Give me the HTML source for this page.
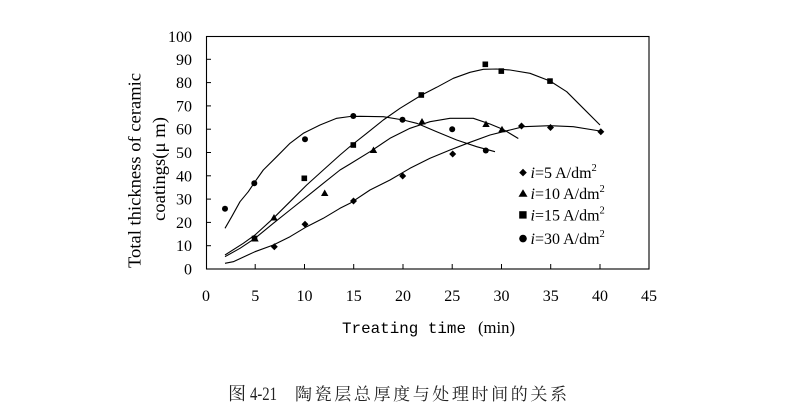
<!DOCTYPE html>
<html>
<head>
<meta charset="utf-8">
<style>
  html,body{margin:0;padding:0;background:#fff;}
  svg{display:block;}
</style>
</head>
<body>
<svg width="798" height="418" viewBox="0 0 798 418" xmlns="http://www.w3.org/2000/svg">
  <rect x="0" y="0" width="798" height="418" fill="#fff"/>
  <!-- plot frame -->
  <rect x="206.5" y="36.5" width="442.5" height="232.5" fill="none" stroke="#000" stroke-width="1.1"/>
  <!-- x ticks -->
  <g stroke="#000" stroke-width="1">
    <line x1="255.2" y1="269" x2="255.2" y2="264"/>
    <line x1="304.5" y1="269" x2="304.5" y2="264"/>
    <line x1="353.7" y1="269" x2="353.7" y2="264"/>
    <line x1="403" y1="269" x2="403" y2="264"/>
    <line x1="452.2" y1="269" x2="452.2" y2="264"/>
    <line x1="501.5" y1="269" x2="501.5" y2="264"/>
    <line x1="550.7" y1="269" x2="550.7" y2="264"/>
    <line x1="600" y1="269" x2="600" y2="264"/>
  </g>
  <!-- y ticks -->
  <g stroke="#000" stroke-width="1">
    <line x1="206.5" y1="245.7" x2="211" y2="245.7"/>
    <line x1="206.5" y1="222.4" x2="211" y2="222.4"/>
    <line x1="206.5" y1="199.1" x2="211" y2="199.1"/>
    <line x1="206.5" y1="175.8" x2="211" y2="175.8"/>
    <line x1="206.5" y1="152.5" x2="211" y2="152.5"/>
    <line x1="206.5" y1="129.2" x2="211" y2="129.2"/>
    <line x1="206.5" y1="105.9" x2="211" y2="105.9"/>
    <line x1="206.5" y1="82.6" x2="211" y2="82.6"/>
    <line x1="206.5" y1="59.3" x2="211" y2="59.3"/>
  </g>
  <!-- y tick labels -->
  <g font-family="'Liberation Serif', serif" font-size="16" fill="#000" text-anchor="end">
    <text x="192" y="274.5">0</text>
    <text x="192" y="251.2">10</text>
    <text x="192" y="227.9">20</text>
    <text x="192" y="204.6">30</text>
    <text x="192" y="181.3">40</text>
    <text x="192" y="158">50</text>
    <text x="192" y="134.7">60</text>
    <text x="192" y="111.4">70</text>
    <text x="192" y="88.1">80</text>
    <text x="192" y="64.8">90</text>
    <text x="192" y="42.2">100</text>
  </g>
  <!-- x tick labels -->
  <g font-family="'Liberation Serif', serif" font-size="16" fill="#000" text-anchor="middle">
    <text x="206" y="301">0</text>
    <text x="255.2" y="301">5</text>
    <text x="304.5" y="301">10</text>
    <text x="353.7" y="301">15</text>
    <text x="403" y="301">20</text>
    <text x="452.2" y="301">25</text>
    <text x="501.5" y="301">30</text>
    <text x="550.7" y="301">35</text>
    <text x="600" y="301">40</text>
    <text x="649" y="301">45</text>
  </g>
  <!-- x axis title -->
  <text x="342" y="333" font-family="'Liberation Mono', monospace" font-size="16" textLength="124" lengthAdjust="spacingAndGlyphs" fill="#000">Treating time</text>
  <text x="478" y="333" font-family="'Liberation Serif', serif" font-size="17" textLength="37" lengthAdjust="spacingAndGlyphs" fill="#000">(min)</text>
  <!-- y axis title -->
  <text transform="translate(140.5,170.5) rotate(-90)" text-anchor="middle" font-family="'Liberation Serif', serif" font-size="18" textLength="195" lengthAdjust="spacingAndGlyphs" fill="#000">Total thickness of ceramic</text>
  <text transform="translate(165,169) rotate(-90)" text-anchor="middle" font-family="'Liberation Serif', serif" font-size="18" textLength="104" lengthAdjust="spacingAndGlyphs" fill="#000">coatings(μ m)</text>

  <!-- curves -->
  <g fill="none" stroke="#000" stroke-width="1.1" stroke-linejoin="round">
    <polyline points="225,228.3 231.7,216.7 240,201.7 248.3,191.7 255,181.7 263.3,170 276.7,156.7 290,143.3 303.3,133.3 320,125 336.7,118.3 350,116.5 360,116.3 383.3,116.7 403.3,120 416.7,123.3 436.7,131.7 456.7,140 476.7,146.7 495,151.7"/>
    <polyline points="225,255 243.3,243.3 255,235 273.3,218.3 290,201.7 306.7,185 323.3,170 340,155 350,146.5 366.7,133.3 383.3,120 400,108.3 421.7,95 436.7,87.3 453.3,78.3 470,72.3 483.3,69.3 496.7,69 510,70 530,73.3 550,81 566.7,91.7 583.3,108.3 600,125"/>
    <polyline points="225,256.7 240,248.3 255,238.3 273.3,223.3 290,210 306.7,196.7 323.3,183.3 340,170 350,164 370,151.7 390,138.3 410,128.3 430,121.7 450,118.3 473.3,118.3 490,124 503.3,129.5 518.3,138.5"/>
    <polyline points="225,263.3 233.3,261.7 255,251.7 273.3,245 290,236.7 306.7,226.7 323.3,218.3 340,208.3 350,203.3 370,190 390,180 410,168.3 430,158.3 450,150 470,142.3 490,135 510,130 523.3,126.7 550,125.7 573.3,126.7 600,131"/>
  </g>

  <!-- markers -->
  <g fill="#000">
    <polygon points="274.3,243.2 277.8,246.7 274.3,250.2 270.8,246.7"/>
    <polygon points="305,220.8 308.5,224.3 305,227.8 301.5,224.3"/>
    <polygon points="353.5,197.5 357,201 353.5,204.5 350,201"/>
    <polygon points="402.7,172.5 406.2,176 402.7,179.5 399.2,176"/>
    <polygon points="452.7,150.5 456.2,154 452.7,157.5 449.2,154"/>
    <polygon points="521.5,122.5 525,126 521.5,129.5 518,126"/>
    <polygon points="550.5,124 554,127.5 550.5,131 547,127.5"/>
    <polygon points="600.8,128.2 604.3,131.7 600.8,135.2 597.3,131.7"/>
    <rect x="251.7" y="235.7" width="5.6" height="5.6"/>
    <rect x="301.5" y="175.5" width="5.6" height="5.6"/>
    <rect x="350.5" y="142.2" width="5.6" height="5.6"/>
    <rect x="418.5" y="92.2" width="5.6" height="5.6"/>
    <rect x="482.5" y="61.5" width="5.6" height="5.6"/>
    <rect x="498.5" y="68.3" width="5.6" height="5.6"/>
    <rect x="547.2" y="78.3" width="5.6" height="5.6"/>
    <polygon points="255,235 258.7,241.5 251.3,241.5"/>
    <polygon points="274,214 277.7,220.5 270.3,220.5"/>
    <polygon points="324.7,189.5 328.4,196 321,196"/>
    <polygon points="373.5,146.5 377.2,153 369.8,153"/>
    <polygon points="422,118 425.7,124.5 418.3,124.5"/>
    <polygon points="486,120.5 489.7,127 482.3,127"/>
    <polygon points="502,125.8 505.7,132.3 498.3,132.3"/>
    <circle cx="225" cy="208.7" r="3"/>
    <circle cx="254.3" cy="183.3" r="3"/>
    <circle cx="305" cy="139.3" r="3"/>
    <circle cx="353.3" cy="116" r="3"/>
    <circle cx="402.5" cy="119.8" r="3"/>
    <circle cx="452.2" cy="129.3" r="3"/>
    <circle cx="485.8" cy="150.5" r="3"/>
  </g>

  <!-- legend -->
  <g fill="#000">
    <polygon points="523,168.8 526.8,172.6 523,176.4 519.2,172.6"/>
    <polygon points="523,189.3 527.5,196.8 518.5,196.8"/>
    <rect x="519.2" y="211.2" width="7.4" height="7.4"/>
    <circle cx="523" cy="238.6" r="3.8"/>
  </g>
  <g font-family="'Liberation Serif', serif" font-size="16" fill="#000">
    <text x="530.5" y="178"><tspan font-style="italic">i</tspan>=5 A/dm<tspan font-size="10.5" dy="-7">2</tspan></text>
    <text x="530.5" y="199"><tspan font-style="italic">i</tspan>=10 A/dm<tspan font-size="10.5" dy="-7">2</tspan></text>
    <text x="530.5" y="220.5"><tspan font-style="italic">i</tspan>=15 A/dm<tspan font-size="10.5" dy="-7">2</tspan></text>
    <text x="530.5" y="244"><tspan font-style="italic">i</tspan>=30 A/dm<tspan font-size="10.5" dy="-7">2</tspan></text>
  </g>

  <!-- caption -->
  <text x="228" y="400" font-family="'Liberation Serif', 'Noto Serif CJK SC', serif" font-size="18" fill="#222">图</text>
  <text x="250" y="400" font-family="'Liberation Serif', serif" font-size="19" textLength="27" lengthAdjust="spacingAndGlyphs" fill="#222">4-21</text>
  <text x="295" y="400" font-family="'Liberation Serif', 'Noto Serif CJK SC', serif" font-size="17" textLength="272" lengthAdjust="spacing" fill="#222">陶瓷层总厚度与处理时间的关系</text>
</svg>
</body>
</html>
